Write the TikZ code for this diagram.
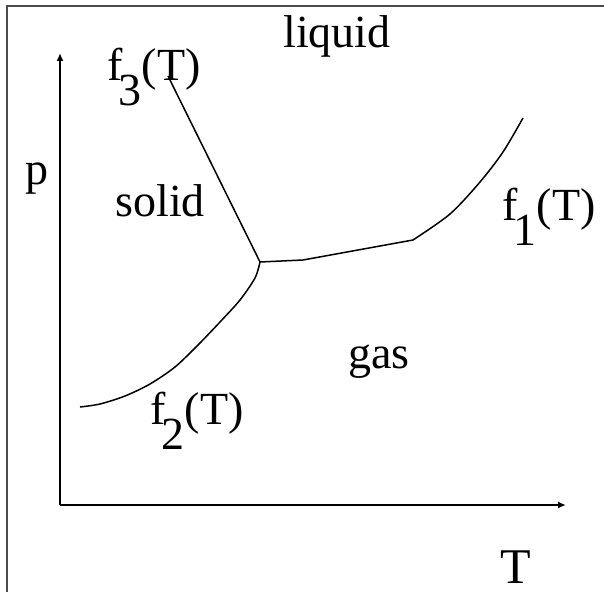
\documentclass[tikz,border=0pt]{standalone}
\usepackage{fontspec}
\setmainfont{Liberation Serif}
\usepackage{tikz}
\usetikzlibrary{arrows.meta,positioning}
\tikzset{
  lbl/.style={inner sep=0pt,anchor=base west,font=\fontsize{23}{27}\selectfont},
  axislbl/.style={lbl,font=\fontsize{25}{29}\selectfont},
  frameline/.style={draw=black!70,line width=1pt},
  axis/.style={-{Latex[length=4pt,width=3.5pt]},line width=1pt},
  phase/.style={line width=0.75pt,line join=round}
}
\newcommand{\fsub}[1]{f\kern-2pt\raisebox{-12.5pt}{#1}(T)}

\begin{document}
\begin{tikzpicture}[x=0.5pt,y=-0.5pt]
  \useasboundingbox (0,0) rectangle (604,592);
  \fill[white] (0,0) rectangle (604,592);
  \draw[frameline] (7,592) -- (7,6) -- (604,6);

  % axes
  \coordinate (origin) at (60,505);
  \coordinate (ptop) at (60,53);
  \coordinate (tend) at (566,505);
  \draw[axis] (origin) -- (ptop);
  \draw[axis] (origin) -- (tend);
  \node[lbl] (plbl) at (25,185) {p};
  \node[axislbl] (tlbl) at (500,583) {T};

  % phase boundaries
  \coordinate (triple) at (260,262);
  \coordinate (f3top) at (168,76);
  \draw[phase] (triple) -- (f3top);
  \draw[phase] (triple) -- (303,260) -- (413,240)
    plot[smooth] coordinates {(413,240) (450,214) (480,182) (503,152) (523,118)};
  \draw[phase] plot[smooth] coordinates
    {(260,262) (255,278) (240,300) (220,322) (198,345) (175,367) (150,384) (125,396) (100,404) (80,407)};

  % labels
  \node[lbl] (liquid) at (283,48) {liquid};
  \node[lbl] (solid) at (115,217) {solid};
  \node[lbl] (gas) at (348,369) {gas};
  \node[lbl] (f3) at (107,81) {\fsub{3}};
  \node[lbl] (f1) at (502,221) {\fsub{1}};
  \node[lbl] (f2) at (150,424) {\fsub{2}};
\end{tikzpicture}
\end{document}
